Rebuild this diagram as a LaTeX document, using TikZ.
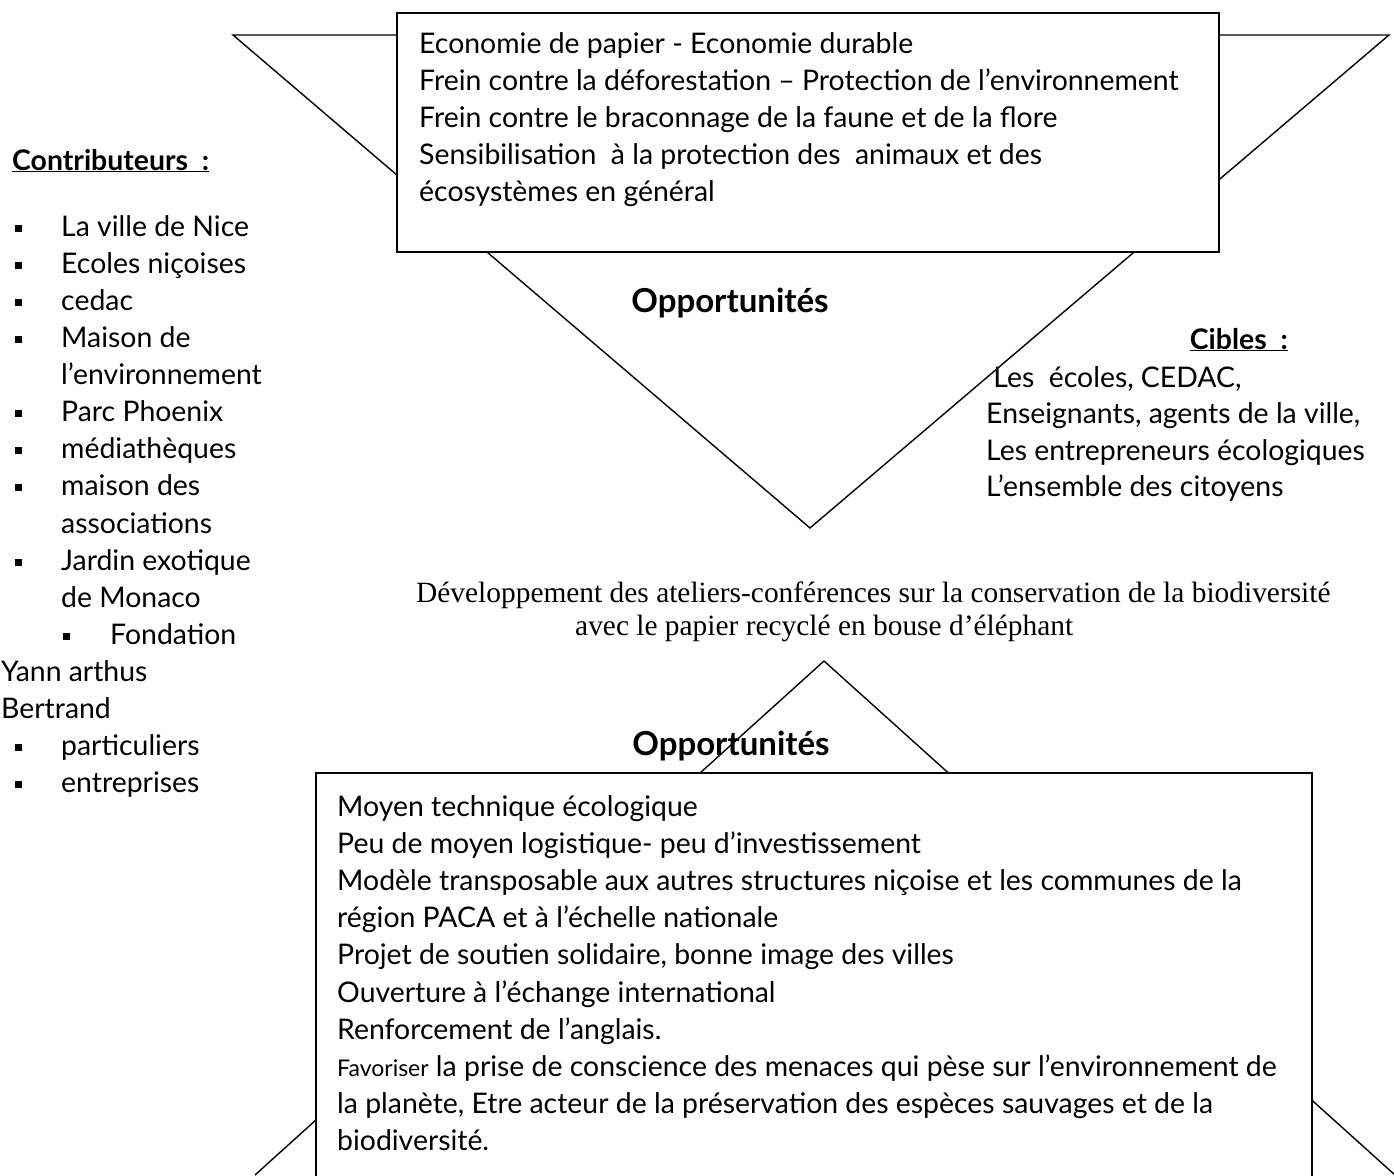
\documentclass[tikz,border=0pt]{standalone}
\usepackage{fontspec}
\setmainfont{Lato}
\newfontfamily\timesfont{Liberation Serif}
\begin{document}
\begin{tikzpicture}[x=1pt,y=-1pt,
  tri/.style={line width=1.4pt, line join=miter},
  boxst/.style={draw, line width=2pt, fill=white},
  txt/.style={anchor=base west, inner sep=0pt, font=\fontsize{28.4}{33}\selectfont},
  boldtxt/.style={anchor=base west, inner sep=0pt, font=\fontsize{28.4}{33}\selectfont\bfseries},
  opptxt/.style={anchor=base, inner sep=0pt, font=\fontsize{33}{38}\selectfont\bfseries},
  serif/.style={anchor=base west, inner sep=0pt, font=\fontsize{29.4}{33}\selectfont\timesfont},
  bul/.style={fill=black, minimum size=7pt, inner sep=0pt}]
\useasboundingbox (0,0) rectangle (1394,1175);
\clip (0,0) rectangle (1394,1175);
\fill[white] (0,0) rectangle (1394,1175);
% top triangle and box
\draw[tri] (233,35) -- (1389,35) -- (810,528) -- cycle;
\draw[boxst] (397,13) rectangle (1219,252);
% bottom triangle and box
\draw[tri] (255,1175) -- (824,661) -- (1395,1175);
\draw[boxst] (316,1200) -- (316,773) -- (1312,773) -- (1312,1200);
% top box text
\foreach \t [count=\i] in {Economie de papier - Economie durable,
  {Frein contre la déforestation – Protection de l’environnement},
  Frein contre le braconnage de la faune et de la flore,
  {Sensibilisation~ à la protection des~ animaux et des},
  écosystèmes en général}
  \node[txt] (top\i) at (419,{53+37*(\i-1)}) {\t};
\node[opptxt] (opp1) at (730,312) {Opportunités};
% contributors
\node[boldtxt] (contrib) at (12,170) {\underline{Contributeurs~ :}};
\foreach \t [count=\i] in {La ville de Nice, Ecoles niçoises, cedac, Maison de,
  l’environnement, Parc Phoenix, médiathèques, maison des, associations,
  Jardin exotique, de Monaco}
  \node[txt] (c\i) at (61,{236+37.13*(\i-1)}) {\t};
\node[txt] (c12) at (110,{236+37.13*11}) {Fondation};
\node[txt] (c13) at (1,{236+37.13*12}) {Yann arthus};
\node[txt] (c14) at (1,{236+37.13*13}) {Bertrand};
\node[txt] (c15) at (61,{236+37.13*14}) {particuliers};
\node[txt] (c16) at (61,{236+37.13*15}) {entreprises};
\foreach \i in {1,2,3,4,6,7,8,10,15,16}
  \node[bul] (b\i) at (18,{228+37.13*(\i-1)}) {};
\node[bul] (b12) at (66,{228+37.13*11}) {};
% targets
\node[boldtxt, anchor=base east] (cibles) at (1288,349) {\underline{Cibles~ :}};
\foreach \t [count=\i] in {{~Les~ écoles, CEDAC,},{Enseignants, agents de la ville,},
  Les entrepreneurs écologiques, L’ensemble des citoyens}
  \node[txt] (cib\i) at (986,{387+36.5*(\i-1)}) {\t};
% middle text
\node[serif] (dev1) at (416,602) {Développement des ateliers-conférences sur la conservation de la biodiversité};
\node[serif] (dev2) at (575,635) {avec le papier recyclé en bouse d’éléphant};
% bottom
\node[opptxt] (opp2) at (731,755) {Opportunités};
\foreach \t [count=\i] in {Moyen technique écologique,
  Peu de moyen logistique- peu d’investissement,
  Modèle transposable aux autres structures niçoise et les communes de la,
  région PACA et à l’échelle nationale,
  {Projet de soutien solidaire, bonne image des villes},
  Ouverture à l’échange international,
  Renforcement de l’anglais.,
  {{\fontsize{23}{27}\selectfont Favoriser} la prise de conscience des menaces qui pèse sur l’environnement de},
  {la planète, Etre acteur de la préservation des espèces sauvages et de la},
  biodiversité.}
  \node[txt] (bot\i) at (337,{816+37.2*(\i-1)}) {\t};
\end{tikzpicture}
\end{document}
